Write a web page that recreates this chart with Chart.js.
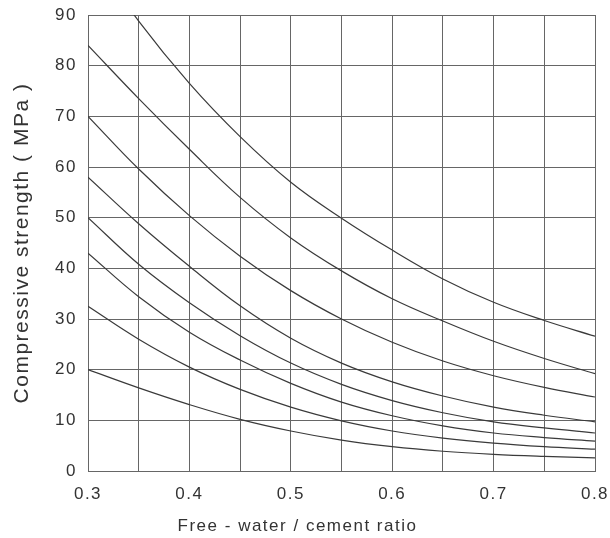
<!DOCTYPE html>
<html>
<head>
<meta charset="utf-8">
<title>Compressive strength vs free-water / cement ratio</title>
<script src="https://cdn.jsdelivr.net/npm/chart.js@4.4.1/dist/chart.umd.min.js"></script>
<style>
    html, body { margin: 0; padding: 0; background: #ffffff; }
    #chart-wrap { position: relative; width: 610px; height: 538px; }
</style>
</head>
<body>
<div id="chart-wrap"><canvas id="strength-chart"></canvas></div>
<script>
// Free-water / cement ratio at every vertical grid line
const ratios = [0.3, 0.35, 0.4, 0.45, 0.5, 0.55, 0.6, 0.65, 0.7, 0.75, 0.8];

// One curve per strength class (MPa), top curve first
const curveA = [103, 88.8, 76.5, 66, 57, 49.9, 43.6, 37.9, 33.3, 29.7, 26.6];
const curveB = [84, 73.5, 63.5, 54, 46, 39.5, 34, 29.6, 25.6, 22.2, 19.2];
const curveC = [70, 59.6, 50.4, 42.4, 35.6, 30, 25.4, 21.7, 18.8, 16.5, 14.6];
const curveD = [58, 48.8, 40.4, 32.6, 26.2, 21.3, 17.6, 14.8, 12.6, 11, 9.7];
const curveE = [50, 40.8, 33.2, 26.7, 21.3, 17.1, 13.9, 11.5, 9.7, 8.5, 7.5];
const curveF = [43, 34.4, 27.4, 21.9, 17.3, 13.6, 10.9, 8.9, 7.5, 6.6, 5.9];
const curveG = [32.5, 26, 20.5, 16.1, 12.6, 9.9, 7.9, 6.5, 5.5, 4.8, 4.3];
const curveH = [20, 16.4, 13.1, 10.2, 7.9, 6.1, 4.8, 3.9, 3.3, 2.9, 2.6];

// Tick labels
const xLabels = [0.3, 0.4, 0.5, 0.6, 0.7, 0.8];
const yTicks = [0, 10, 20, 30, 40, 50, 60, 70, 80, 90];

document.addEventListener('DOMContentLoaded', () => {
    drawStrengthChart();
});

/**
 * Builds the dataset list from the curve arrays.
 */
function buildDatasets() {
    const curves = [curveA, curveB, curveC, curveD, curveE, curveF, curveG, curveH];
    return curves.map((values, i) => ({
        label: 'Curve ' + (i + 1),
        data: ratios.map((r, j) => ({ x: r, y: values[j] })),
        borderColor: '#3a3a3a',
        borderWidth: 1.2,
        pointRadius: 0,
        fill: false,
        tension: 0.4
    }));
}

// Canvas letter spacing - the reference text is set a bit loose
const looseText = {
    id: 'looseText',
    beforeDraw(chart) {
        chart.ctx.letterSpacing = '1.5px';
    }
};

function drawStrengthChart() {
    const canvas = document.getElementById('strength-chart');
    const textColor = '#333333';
    const gridColor = '#666666';

    Chart.defaults.font.family = "'Liberation Sans', Arial, sans-serif";
    Chart.defaults.font.size = 17;
    Chart.defaults.color = textColor;

    new Chart(canvas, {
        type: 'line',
        data: { datasets: buildDatasets() },
        plugins: [looseText],
        options: {
            responsive: true,
            maintainAspectRatio: false,
            animation: false,
            layout: { padding: { top: 15, right: 15, left: 0, bottom: 0 } },
            plugins: {
                legend: { display: false },
                tooltip: { enabled: false },
                // x-axis caption sits a little left of the plot centre, so it is
                // drawn as the chart title underneath everything
                title: {
                    display: true,
                    position: 'bottom',
                    text: 'Free - water / cement ratio',
                    color: textColor,
                    font: { size: 17, weight: 'normal' },
                    padding: { top: 0, bottom: 1 }
                }
            },
            scales: {
                x: {
                    type: 'linear',
                    min: 0.3,
                    max: 0.8,
                    afterBuildTicks: (scale) => {
                        scale.ticks = ratios.map(v => ({ value: v }));
                    },
                    afterFit: (scale) => {
                        scale.height = 45.6;
                        // let the layout padding alone decide the plot edges
                        scale.paddingLeft = 0;
                        scale.paddingRight = 0;
                    },
                    ticks: {
                        autoSkip: false,
                        maxRotation: 0,
                        padding: 13,
                        callback: (value) => {
                            const hit = xLabels.find(l => Math.abs(l - value) < 1e-6);
                            return hit === undefined ? '' : hit.toFixed(1);
                        }
                    },
                    grid: { color: gridColor, lineWidth: 1, drawTicks: false },
                    border: { color: gridColor, width: 1 }
                },
                y: {
                    min: 0,
                    max: 90,
                    afterBuildTicks: (scale) => {
                        scale.ticks = yTicks.map(v => ({ value: v }));
                    },
                    afterFit: (scale) => {
                        scale.width = 88;
                        scale.paddingTop = 0;
                        scale.paddingBottom = 0;
                    },
                    ticks: { padding: 11 },
                    grid: { color: gridColor, lineWidth: 1, drawTicks: false },
                    border: { color: gridColor, width: 1 },
                    title: {
                        display: true,
                        text: 'Compressive strength ( MPa )',
                        font: { size: 21 },
                        padding: { top: 10, bottom: 0 }
                    }
                }
            }
        }
    });
}
</script>
</body>
</html>
